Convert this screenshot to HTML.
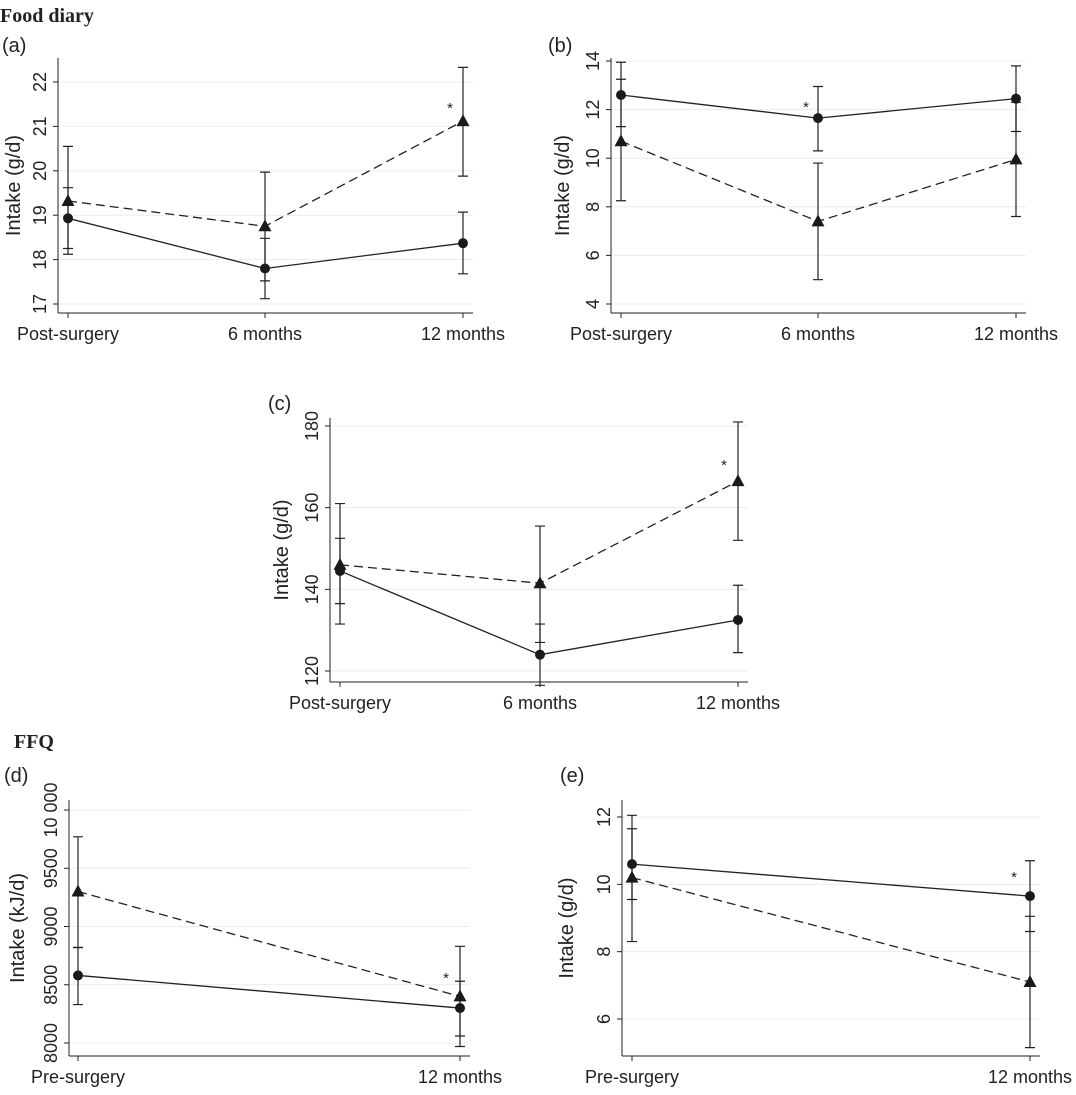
<!DOCTYPE html>
<html><head><meta charset="utf-8"><style>
body{margin:0;background:#fff;width:1076px;height:1090px;overflow:hidden;font-family:"Liberation Sans",sans-serif}
svg text{font-family:"Liberation Sans",sans-serif;fill:#222}
</style></head><body>
<svg id="s" width="1076" height="1090">
<text x="0" y="22" style="font-family:'Liberation Serif',serif;font-weight:bold;font-size:20px">Food diary</text>
<text x="14" y="748" style="font-family:'Liberation Serif',serif;font-weight:bold;font-size:20px">FFQ</text>
</svg>
<script>
const catsA=["Post-surgery","6 months","12 months"];
const catsB=["Pre-surgery","12 months"];
// panel a
const aCirc=[18.93,17.8,18.37], aCircLo=[18.25,17.12,17.68], aCircHi=[19.62,18.48,19.07];
const aTri=[19.32,18.75,21.12], aTriLo=[18.12,17.52,19.88], aTriHi=[20.55,19.97,22.33];
const aTicks=[17,18,19,20,21,22];
// panel b
const bCirc=[12.6,11.65,12.45], bCircLo=[11.3,10.3,11.1], bCircHi=[13.95,12.95,13.8];
const bTri=[10.7,7.4,9.95], bTriLo=[8.25,5.0,7.6], bTriHi=[13.25,9.8,12.3];
const bTicks=[4,6,8,10,12,14];
// panel c
const cCirc=[144.5,124,132.5], cCircLo=[136.5,116.5,124.5], cCircHi=[152.5,131.5,141];
const cTri=[146,141.5,166.5], cTriLo=[131.5,127,152], cTriHi=[161,155.5,181];
const cTicks=[120,140,160,180];
// panel d
const dCirc=[8580,8300], dCircLo=[8330,8060], dCircHi=[8820,8530];
const dTri=[9300,8400], dTriLo=[8820,7970], dTriHi=[9770,8830];
const dTicks=[8000,8500,9000,9500,10000];
const dTickLabels=["8000","8500","9000","9500","10 000"];
// panel e
const eCirc=[10.6,9.65], eCircLo=[9.55,8.6], eCircHi=[11.65,10.7];
const eTri=[10.2,7.1], eTriLo=[8.3,5.15], eTriHi=[12.05,9.05];
const eTicks=[6,8,10,12];

const S=document.getElementById('s');
const NS='http://www.w3.org/2000/svg';
function el(t,a,p){const e=document.createElementNS(NS,t);for(const k in a)e.setAttribute(k,a[k]);(p||S).appendChild(e);return e;}

function panel(o){
  const g=el('g',{});
  
  
  const y=v=>o.y1+(v-o.v1)*(o.y2-o.y1)/(o.v2-o.v1);
  const x=i=>o.cx[i];
  const lab=el('text',{x:o.labX,y:o.labY,'font-size':20},g);lab.textContent='('+o.id+')';
  
  
  o.ticks.forEach((t,i)=>{
    const gl=el('line',{x1:o.ax,x2:o.right,y1:y(t),y2:y(t),stroke:'#ececec','stroke-width':1},g);
    
    
    el('line',{x1:o.ax-5,x2:o.ax,y1:y(t),y2:y(t),stroke:'#222'},g);
    const tx=el('text',{x:o.ax-12,y:y(t),'font-size':18,'text-anchor':'middle',transform:`rotate(-90 ${o.ax-12} ${y(t)})`},g);
    tx.textContent=o.tickLabels?o.tickLabels[i]:t;
    
    
  });
  el('line',{x1:o.ax,x2:o.ax,y1:o.top,y2:o.bottom,stroke:'#222'},g);
  el('line',{x1:o.ax,x2:o.right,y1:o.bottom,y2:o.bottom,stroke:'#222'},g);
  o.cats.forEach((c,i)=>{
    el('line',{x1:x(i),x2:x(i),y1:o.bottom,y2:o.bottom+5,stroke:'#222'},g);
    const t=el('text',{x:x(i),y:o.bottom+27,'font-size':18,'text-anchor':'middle'},g);t.textContent=c;
    
    
  });
  const yt=el('text',{x:0,y:0,'font-size':20,'text-anchor':'middle',transform:`translate(${o.titleX},${(o.top+o.bottom)/2}) rotate(-90)`},g);
  yt.textContent=o.title;
  
  
  [[o.cLo,o.cHi],[o.tLo,o.tHi]].forEach(([lo,hi])=>{
    lo.forEach((v,i)=>{
      const e=el('path',{d:`M${x(i)},${y(lo[i])}V${y(hi[i])}M${x(i)-5},${y(lo[i])}h10M${x(i)-5},${y(hi[i])}h10`,stroke:'#222',fill:'none','stroke-width':1.2},g);
      
      
    });
  });
  const lc=el('polyline',{points:o.circ.map((v,i)=>x(i)+','+y(v)).join(' '),fill:'none',stroke:'#222','stroke-width':1.3},g);
  
  
  const lt=el('polyline',{points:o.tri.map((v,i)=>x(i)+','+y(v)).join(' '),fill:'none',stroke:'#222','stroke-width':1.3,'stroke-dasharray':'9,5'},g);
  
  
  o.circ.forEach((v,i)=>{
    const c=el('circle',{cx:x(i),cy:y(v),r:5,fill:'#1a1a1a'},g);
    
    
  });
  o.tri.forEach((v,i)=>{
    const X=x(i),Y=y(v);
    const p=el('path',{d:`M${X},${Y-7}L${X+6.5},${Y+5}L${X-6.5},${Y+5}Z`,fill:'#1a1a1a'},g);
    
    
  });
  const st=el('text',{x:o.star[0],y:o.star[1],'font-size':15,'text-anchor':'middle'},g);st.textContent='*';
  
  
}
panel({id:'a',labX:2,labY:52,cats:catsA,cx:[68,265,463],ax:58,right:473,top:58,bottom:313,v1:22,y1:82,v2:17,y2:304,ticks:aTicks,title:'Intake (g/d)',titleX:20,circ:aCirc,cLo:aCircLo,cHi:aCircHi,tri:aTri,tLo:aTriLo,tHi:aTriHi,star:[450,113]});
panel({id:'b',labX:548,labY:52,cats:catsA,cx:[621,818,1016],ax:611,right:1026,top:58,bottom:313,v1:14,y1:61,v2:4,y2:304,ticks:bTicks,title:'Intake (g/d)',titleX:569,circ:bCirc,cLo:bCircLo,cHi:bCircHi,tri:bTri,tLo:bTriLo,tHi:bTriHi,star:[806,112]});
panel({id:'c',labX:268,labY:410,cats:catsA,cx:[340,540,738],ax:330,right:748,top:418,bottom:682,v1:180,y1:426,v2:120,y2:671,ticks:cTicks,title:'Intake (g/d)',titleX:288,circ:cCirc,cLo:cCircLo,cHi:cCircHi,tri:cTri,tLo:cTriLo,tHi:cTriHi,star:[724,470]});
panel({id:'d',labX:4,labY:782,cats:catsB,cx:[78,460],ax:69,right:470,top:800,bottom:1056,v1:10000,y1:810,v2:8000,y2:1043,ticks:dTicks,tickLabels:dTickLabels,title:'Intake (kJ/d)',titleX:24,circ:dCirc,cLo:dCircLo,cHi:dCircHi,tri:dTri,tLo:dTriLo,tHi:dTriHi,star:[446,983]});
panel({id:'e',labX:560,labY:782,cats:catsB,cx:[632,1030],ax:622,right:1040,top:800,bottom:1056,v1:12,y1:817,v2:6,y2:1019,ticks:eTicks,title:'Intake (g/d)',titleX:573,circ:eCirc,cLo:eCircLo,cHi:eCircHi,tri:eTri,tLo:eTriLo,tHi:eTriHi,star:[1014,882]});
</script>
</body></html>
